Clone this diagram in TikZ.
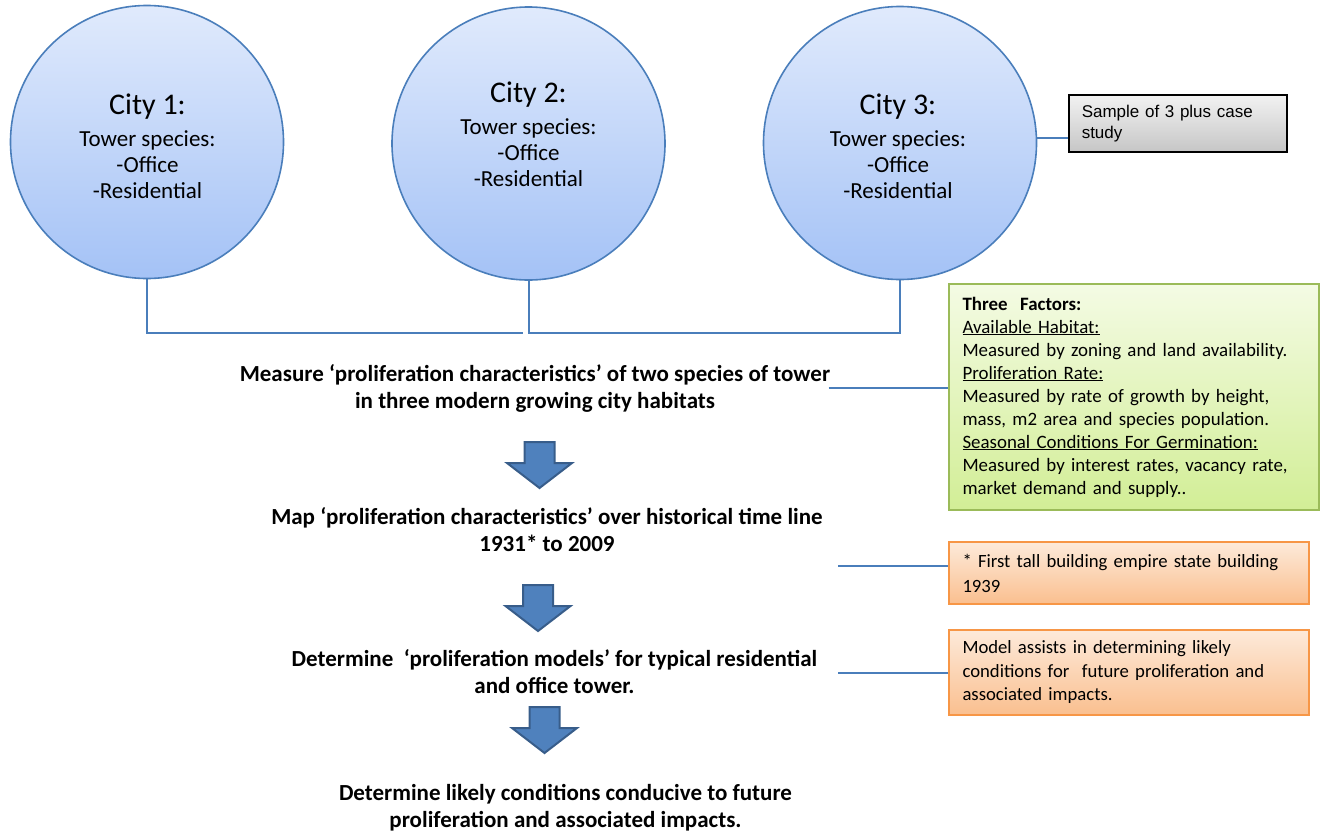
\documentclass[tikz,border=0pt]{standalone}
\usepackage{fontspec}
\setmainfont{Carlito}
\newfontfamily\arialfont{Liberation Sans}
\usetikzlibrary{calc}

\definecolor{cityTop}{HTML}{E0EAFC}
\definecolor{cityBot}{HTML}{A4C2F6}
\definecolor{linkblue}{HTML}{4A7EBB}
\definecolor{arrowfill}{HTML}{4F81BD}
\definecolor{arrowline}{HTML}{385D8A}
\definecolor{greenTop}{HTML}{F4FBE4}
\definecolor{greenBot}{HTML}{D2EE96}
\definecolor{greenLine}{HTML}{9BBB59}
\definecolor{orangeTop}{HTML}{FDEADA}
\definecolor{orangeBot}{HTML}{FABF8F}
\definecolor{orangeLine}{HTML}{F79646}
\definecolor{grayTop}{HTML}{F2F2F2}
\definecolor{grayBot}{HTML}{C6C6C6}

\tikzset{
  city/.style={circle, draw=linkblue, line width=1.6pt, top color=cityTop,
    bottom color=cityBot, minimum size=273pt, inner sep=0pt},
  citytext/.style={align=center, text=black, font=\fontsize{23}{26}\selectfont},
  flowtext/.style={align=center, text=black, font=\bfseries\fontsize{23}{27}\selectfont},
  link/.style={draw=linkblue, line width=2pt},
  notebox/.style={rectangle, align=left, anchor=north west, inner xsep=13pt,
    inner ysep=0pt, text=black},
  greenbox/.style={notebox, draw=greenLine, line width=2pt, top color=greenTop,
    bottom color=greenBot, minimum width=370pt, minimum height=226pt,
    text width=343pt, font=\fontsize{18.9}{23}\selectfont},
  orangebox/.style={notebox, draw=orangeLine, line width=2pt, top color=orangeTop,
    bottom color=orangeBot, minimum width=360pt, text width=333pt},
  graybox/.style={notebox, draw=black, line width=1.5pt, top color=grayTop,
    bottom color=grayBot, minimum width=218pt, minimum height=57pt,
    text width=192pt, font=\arialfont\fontsize{17}{21}\selectfont},
  blockarrow/.pic={
    \filldraw[fill=arrowfill, draw=arrowline, line width=2pt, line join=miter]
      (-15,0) -- (15,0) -- (15,21) -- (32.5,21) -- (0,46) -- (-32.5,21)
      -- (-15,21) -- cycle;
  }
}

\begin{document}
\begin{tikzpicture}[x=1pt, y=-1pt]
\useasboundingbox (0,0) rectangle (1325,833);

% the three cities
\node[city] (c1) at (147,142) {};
\node[city] (c2) at (528.5,143.5) {};
\node[city] (c3) at (900,143) {};

\node[citytext] (c1t) at (147.5,146)
  {{\fontsize{30}{32}\selectfont City 1:}\\[6pt]Tower species:\\-Office\\-Residential};
\node[citytext] (c2t) at (528.5,134)
  {{\fontsize{30}{32}\selectfont City 2:}\\[6pt]Tower species:\\-Office\\-Residential};
\node[citytext] (c3t) at (898,146)
  {{\fontsize{30}{32}\selectfont City 3:}\\[6pt]Tower species:\\-Office\\-Residential};

% sample note
\node[graybox] (sample) at (1068,94) {Sample of 3 plus case\\study};

% factors note
\node[greenbox] (factors) at (948,283) {%
  \textbf{Three\ \ Factors:}\\
  \underline{Available Habitat:}\\
  Measured by zoning and land availability.\\
  \underline{Proliferation Rate:}\\
  Measured by rate of growth by height,\\
  mass, m2 area and species population.\\
  \underline{Seasonal Conditions For Germination:}\\
  Measured by interest rates, vacancy rate,\\
  market demand and supply..};

% timeline and model notes
\node[orangebox, minimum height=62pt, font=\fontsize{18.7}{25}\selectfont] (first) at (948,541)
  {* First tall building empire state building\\1939};
\node[orangebox, minimum height=85pt, font=\fontsize{18.7}{23.5}\selectfont] (model) at (948,629)
  {Model assists in determining likely\\conditions for\ \ future proliferation and\\associated impacts.};

% method steps
\node[flowtext] (s1) at (535,388.5)
  {Measure ‘proliferation characteristics’ of two species of tower\\in three modern growing city habitats};
\node[flowtext] (s2) at (547,529.5)
  {Map ‘proliferation characteristics’ over historical time line\\1931* to 2009};
\node[flowtext] (s3) at (554.5,671.5)
  {Determine\ \ ‘proliferation models’ for typical residential\\and office tower.};
\node[flowtext] (s4) at (565.5,807.5)
  {Determine likely conditions conducive to future\\proliferation and associated impacts.};

\pic at (539.5,442) {blockarrow};
\pic at (538,585) {blockarrow};
\pic at (544.5,707) {blockarrow};

% connectors
\coordinate (j1) at (523,333);
\coordinate (j2) at (528.5,333);
\draw[link] (c1.south) |- (j1);
\draw[link] (c2.south) -- (j2) -| (c3.south);
\draw[link] (c3.2) -- (c3.2 -| sample.west);
\draw[link] ([xshift=-5pt,yshift=1pt]s1.east) -- ([yshift=1pt]factors.west |- s1.east);
\coordinate (n2) at (838,566);
\draw[link] (n2) -- (n2 -| first.west);
\coordinate (n3) at (838,673);
\draw[link] (n3) -- (n3 -| model.west);
\end{tikzpicture}
\end{document}
